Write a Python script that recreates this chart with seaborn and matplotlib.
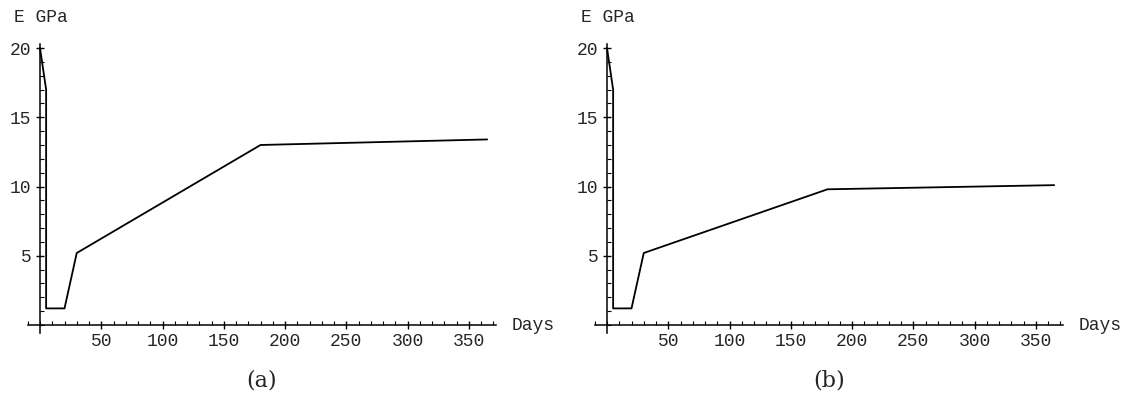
import numpy as np
import pandas as pd
import matplotlib
matplotlib.use("Agg")
import matplotlib.pyplot as plt
import seaborn as sns
from matplotlib.ticker import MultipleLocator

# ---------- Data ----------
days = [0, 5, 5, 20, 30, 180, 365]
e_a = [20, 17, 1.2, 1.2, 5.2, 13.0, 13.4]
e_b = [20, 17, 1.2, 1.2, 5.2, 9.8, 10.1]
panels = ["(a)", "(b)"]
x_ticks = [50, 100, 150, 200, 250, 300, 350]
y_ticks = [5, 10, 15, 20]

sns.set_theme(style="white")
plt.rcParams["font.family"] = ["Liberation Mono", "DejaVu Sans Mono"]

fig = plt.figure(figsize=(11.27, 3.99), dpi=100)
W, H = 1127, 399

for i, (lab, e) in enumerate(zip(panels, [e_a, e_b])):
    off = i * 567
    ax = fig.add_axes([(27.75 + off) / W, 0.1646, 468 / W, 0.890 - 0.1646])
    df = pd.DataFrame({"day": days, "E": e})
    sns.lineplot(data=df, x="day", y="E", sort=False, estimator=None,
                 color="black", linewidth=1.3, ax=ax)
    ax.set_xlim(-10, 372)
    ax.set_ylim(-0.6, 20.3)
    for s in ["top", "right"]:
        ax.spines[s].set_visible(False)
    ax.spines["left"].set_position(("data", 0))
    ax.spines["bottom"].set_position(("data", 0))
    for s in ["left", "bottom"]:
        ax.spines[s].set_color("black")
        ax.spines[s].set_linewidth(1.1)
    ax.set_xticks(x_ticks)
    ax.set_yticks(y_ticks)
    ax.xaxis.set_minor_locator(MultipleLocator(10))
    ax.yaxis.set_minor_locator(MultipleLocator(1))
    ax.tick_params(which="major", direction="inout", length=6, width=1,
                   color="black", labelsize=13, bottom=True, left=True, pad=3)
    ax.tick_params(which="minor", direction="in", length=3, width=0.8,
                   color="black", bottom=True, left=True)
    ax.set_xlabel("")
    ax.set_ylabel("")
    ax.patch.set_alpha(0)
    fig.text((14 + off) / W, 1 - 18 / H, "E GPa", fontsize=13, va="center", ha="left")
    fig.text((512 + off) / W, 1 - 325 / H, "Days", fontsize=13, va="center", ha="left")
    fig.text((262 + off) / W, 1 - 380 / H, lab, fontsize=16, va="center", ha="center",
             family=["DejaVu Serif"])

fig.savefig("out.png", dpi=100)
